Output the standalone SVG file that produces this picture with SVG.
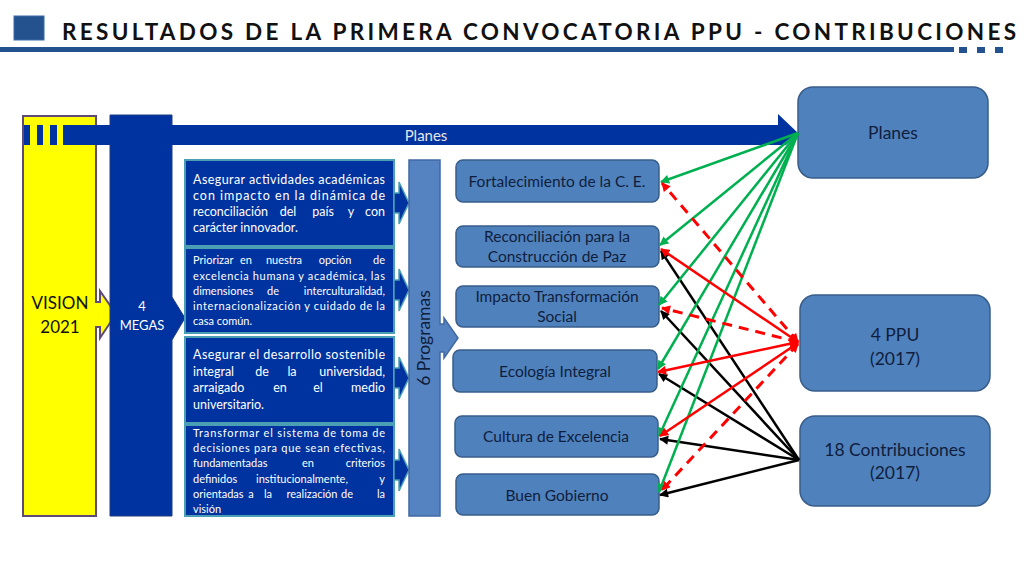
<svg xmlns="http://www.w3.org/2000/svg" width="1024" height="576" viewBox="0 0 1024 576">
<defs>
<style>
.f{font-family:Lato,"Liberation Sans",sans-serif}
.title{font-weight:bold;font-size:22.5px;fill:#111}
.tb{fill:#0033a0;stroke:#4a9fb5;stroke-width:2}
.tba{fill:#0033a0;stroke:#4a9fb5;stroke-width:1.5}
.w{fill:#fff}
.s12{font-size:12.5px}
.s11{font-size:11px}
.m{text-anchor:middle}
.e{text-anchor:end}
.prog{fill:#4f81bd;stroke:#385d8a;stroke-width:1.5}
.pt{font-size:15.5px;fill:#0f1e3c;text-anchor:middle}
.big{fill:#4f81bd;stroke:#385d8a;stroke-width:1.5}
.bt{font-size:17.5px;fill:#0f1e3c;text-anchor:middle}
.g{stroke:#00b050;stroke-width:2.5;fill:none;marker-end:url(#ag)}
.r{stroke:#ff0000;stroke-width:2.5;fill:none;marker-end:url(#ar);marker-start:url(#ar)}
.rd{stroke:#ff0000;stroke-width:3;fill:none;stroke-dasharray:10 7;marker-end:url(#ar);marker-start:url(#ar)}
.k{stroke:#000;stroke-width:2.5;fill:none;marker-end:url(#ak)}
</style>
<marker id="ag" viewBox="0 0 10 10" refX="9" refY="5" markerWidth="10" markerHeight="9" markerUnits="userSpaceOnUse" orient="auto-start-reverse"><path d="M0,0 L10,5 L0,10 z" fill="#00b050"/></marker>
<marker id="ar" viewBox="0 0 10 10" refX="9" refY="5" markerWidth="10" markerHeight="9" markerUnits="userSpaceOnUse" orient="auto-start-reverse"><path d="M0,0 L10,5 L0,10 z" fill="#ff0000"/></marker>
<marker id="ak" viewBox="0 0 10 10" refX="9" refY="5" markerWidth="10" markerHeight="9" markerUnits="userSpaceOnUse" orient="auto-start-reverse"><path d="M0,0 L10,5 L0,10 z" fill="#000"/></marker>
</defs>
<rect width="1024" height="576" fill="#fff"/>

<g id="header">
<rect x="14" y="16" width="30" height="24" fill="#24528f" stroke="#3a6aa8" stroke-width="1"/>
<text class="f title" x="62" y="40" textLength="954" lengthAdjust="spacing">RESULTADOS DE LA PRIMERA CONVOCATORIA PPU - CONTRIBUCIONES</text>
<rect x="0" y="47" width="954" height="5" fill="#24528f"/>
<rect x="959" y="47" width="8" height="6" fill="#24528f"/>
<rect x="977" y="47" width="8" height="6" fill="#24528f"/>
<rect x="995" y="47" width="8" height="6" fill="#24528f"/>
</g>

<g id="vision">
<polygon points="23,116 96,116 96,302 100,302 100,291 116,314 100,338 100,327 96,327 96,516 23,516" fill="#ffff00" stroke="#5f497a" stroke-width="2"/>
<text class="f" x="60" y="309" font-size="17" fill="#111" text-anchor="middle">VISION</text>
<text class="f" x="60" y="333" font-size="17" fill="#111" text-anchor="middle">2021</text>
</g>

<g id="megas">
<polygon points="110,115 172,115 172,297 185,318 172,340 172,516 110,516" fill="#0033a0" stroke="#1f3a80" stroke-width="1"/>
<text class="f w m" x="142" y="311" font-size="13">4</text>
<text class="f w m" x="142" y="330" font-size="13">MEGAS</text>
</g>

<g id="planes-arrow">
<rect x="24" y="125" width="6" height="20" fill="#0033a0"/>
<rect x="37" y="125" width="6" height="20" fill="#0033a0"/>
<rect x="50" y="125" width="7" height="20" fill="#0033a0"/>
<polygon points="63,125 778,125 778,114 798,133 786,145 63,145" fill="#0033a0"/>
<text class="f m" x="426" y="141" font-size="15" fill="#e6e6e6">Planes</text>
</g>

<g id="mega1">
<rect class="tb" x="185" y="160" width="209" height="86"/>
<polygon class="tba" points="394,193 399,193 399,182 409,203 399,224 399,213 394,213"/>
<text class="f w s12" x="193" y="184" textLength="192" lengthAdjust="spacing">Asegurar actividades académicas</text>
<text class="f w s12" x="193" y="200" textLength="192" lengthAdjust="spacing">con impacto en la dinámica de</text>
<text class="f w s12" y="216"><tspan x="193">reconciliación</tspan><tspan x="288" class="m">del</tspan><tspan x="323" class="m">país</tspan><tspan x="351" class="m">y</tspan><tspan x="385" class="e">con</tspan></text>
<text class="f w s12" x="193" y="232">carácter innovador.</text>
</g>

<g id="mega2">
<rect class="tb" x="185" y="248" width="209" height="85"/>
<polygon class="tba" points="394,280 399,280 399,269 409,290 399,311 399,300 394,300"/>
<text class="f w s11" y="264"><tspan x="193">Priorizar</tspan><tspan x="246" class="m">en</tspan><tspan x="284" class="m">nuestra</tspan><tspan x="335" class="m">opción</tspan><tspan x="385" class="e">de</tspan></text>
<text class="f w s11" x="193" y="280" textLength="192" lengthAdjust="spacing">excelencia humana y académica, las</text>
<text class="f w s11" y="295"><tspan x="193">dimensiones</tspan><tspan x="273" class="m">de</tspan><tspan x="385" class="e">interculturalidad,</tspan></text>
<text class="f w s11" x="193" y="310" textLength="192" lengthAdjust="spacing">internacionalización y cuidado de la</text>
<text class="f w s11" x="193" y="325">casa común.</text>
</g>

<g id="mega3">
<rect class="tb" x="185" y="337" width="209" height="86"/>
<polygon class="tba" points="394,368 399,368 399,357 409,378 399,399 399,388 394,388"/>
<text class="f w s12" x="193" y="359" textLength="192" lengthAdjust="spacing">Asegurar el desarrollo sostenible</text>
<text class="f w s12" y="376"><tspan x="193">integral</tspan><tspan x="262" class="m">de</tspan><tspan x="292" class="m">la</tspan><tspan x="385" class="e">universidad,</tspan></text>
<text class="f w s12" y="392"><tspan x="193">arraigado</tspan><tspan x="280" class="m">en</tspan><tspan x="318" class="m">el</tspan><tspan x="385" class="e">medio</tspan></text>
<text class="f w s12" x="193" y="409">universitario.</text>
</g>

<g id="mega4">
<rect class="tb" x="185" y="425" width="209" height="91"/>
<polygon class="tba" points="394,460 399,460 399,449 409,470 399,491 399,480 394,480"/>
<text class="f w s11" x="193" y="437" textLength="192" lengthAdjust="spacing">Transformar el sistema de toma de</text>
<text class="f w s11" x="193" y="452" textLength="192" lengthAdjust="spacing">decisiones para que sean efectivas,</text>
<text class="f w s11" y="467"><tspan x="193">fundamentadas</tspan><tspan x="308" class="m">en</tspan><tspan x="385" class="e">criterios</tspan></text>
<text class="f w s11" y="483"><tspan x="193">definidos</tspan><tspan x="302" class="m">institucionalmente,</tspan><tspan x="385" class="e">y</tspan></text>
<text class="f w s11" y="498"><tspan x="193">orientadas</tspan><tspan x="251" class="m">a</tspan><tspan x="268" class="m">la</tspan><tspan x="312" class="m">realización</tspan><tspan x="347" class="m">de</tspan><tspan x="385" class="e">la</tspan></text>
<text class="f w s11" x="193" y="513">visión</text>
</g>

<g id="programas">
<polygon points="409,160 440,160 440,324 444,324 444,318 458,338 444,358 444,352 440,352 440,516 409,516" fill="#5583c2" stroke="#3f6aa3" stroke-width="1.5"/>
<text class="f" transform="translate(430,338) rotate(-90)" font-size="17.5" fill="#0f1e3c" text-anchor="middle">6 Programas</text>
</g>

<g id="p1"><rect class="prog" x="456" y="160" width="203" height="42" rx="7"/><text class="f pt" x="557" y="187">Fortalecimiento de la C. E.</text></g>
<g id="p2"><rect class="prog" x="456" y="226" width="203" height="41" rx="7"/><text class="f pt" x="557" y="242">Reconciliación para la</text><text class="f pt" x="557" y="262">Construcción de Paz</text></g>
<g id="p3"><rect class="prog" x="456" y="286" width="203" height="41" rx="7"/><text class="f pt" x="557" y="302">Impacto Transformación</text><text class="f pt" x="557" y="322">Social</text></g>
<g id="p4"><rect class="prog" x="453" y="350" width="204" height="42" rx="7"/><text class="f pt" x="555" y="377">Ecología Integral</text></g>
<g id="p5"><rect class="prog" x="455" y="416" width="203" height="41" rx="7"/><text class="f pt" x="556" y="442">Cultura de Excelencia</text></g>
<g id="p6"><rect class="prog" x="456" y="474" width="203" height="41" rx="7"/><text class="f pt" x="557" y="501">Buen Gobierno</text></g>

<g id="planes"><rect class="big" x="798" y="87" width="190" height="91" rx="15"/><text class="f bt" x="893" y="139">Planes</text></g>
<g id="ppu"><rect class="big" x="800" y="295" width="190" height="96" rx="15"/><text class="f bt" x="895" y="341">4 PPU</text><text class="f bt" x="895" y="365">(2017)</text></g>
<g id="contrib"><rect class="big" x="800" y="416" width="190" height="90" rx="15"/><text class="f bt" x="895" y="456">18 Contribuciones</text><text class="f bt" x="895" y="479">(2017)</text></g>

<g id="connectors">
<line class="k" x1="799" y1="460" x2="661" y2="251"/>
<line class="k" x1="799" y1="460" x2="661" y2="311"/>
<line class="k" x1="799" y1="460" x2="659" y2="374"/>
<line class="k" x1="799" y1="460" x2="660" y2="439"/>
<line class="k" x1="799" y1="460" x2="660" y2="495"/>
<line class="g" x1="798" y1="133" x2="661" y2="182"/>
<line class="g" x1="798" y1="133" x2="660" y2="245"/>
<line class="g" x1="798" y1="133" x2="659" y2="305"/>
<line class="g" x1="798" y1="133" x2="658" y2="369"/>
<line class="g" x1="798" y1="133" x2="659" y2="436"/>
<line class="g" x1="798" y1="133" x2="659" y2="492"/>
<line class="r" x1="798" y1="342" x2="661" y2="249"/>
<line class="r" x1="798" y1="342" x2="658" y2="372" stroke-width="3.5"/>
<line class="r" x1="798" y1="343" x2="660" y2="436"/>
<line class="rd" x1="798" y1="342" x2="662" y2="183"/>
<line class="rd" x1="798" y1="342" x2="662" y2="308"/>
<line class="rd" x1="798" y1="344" x2="662" y2="490"/>
</g>
</svg>
